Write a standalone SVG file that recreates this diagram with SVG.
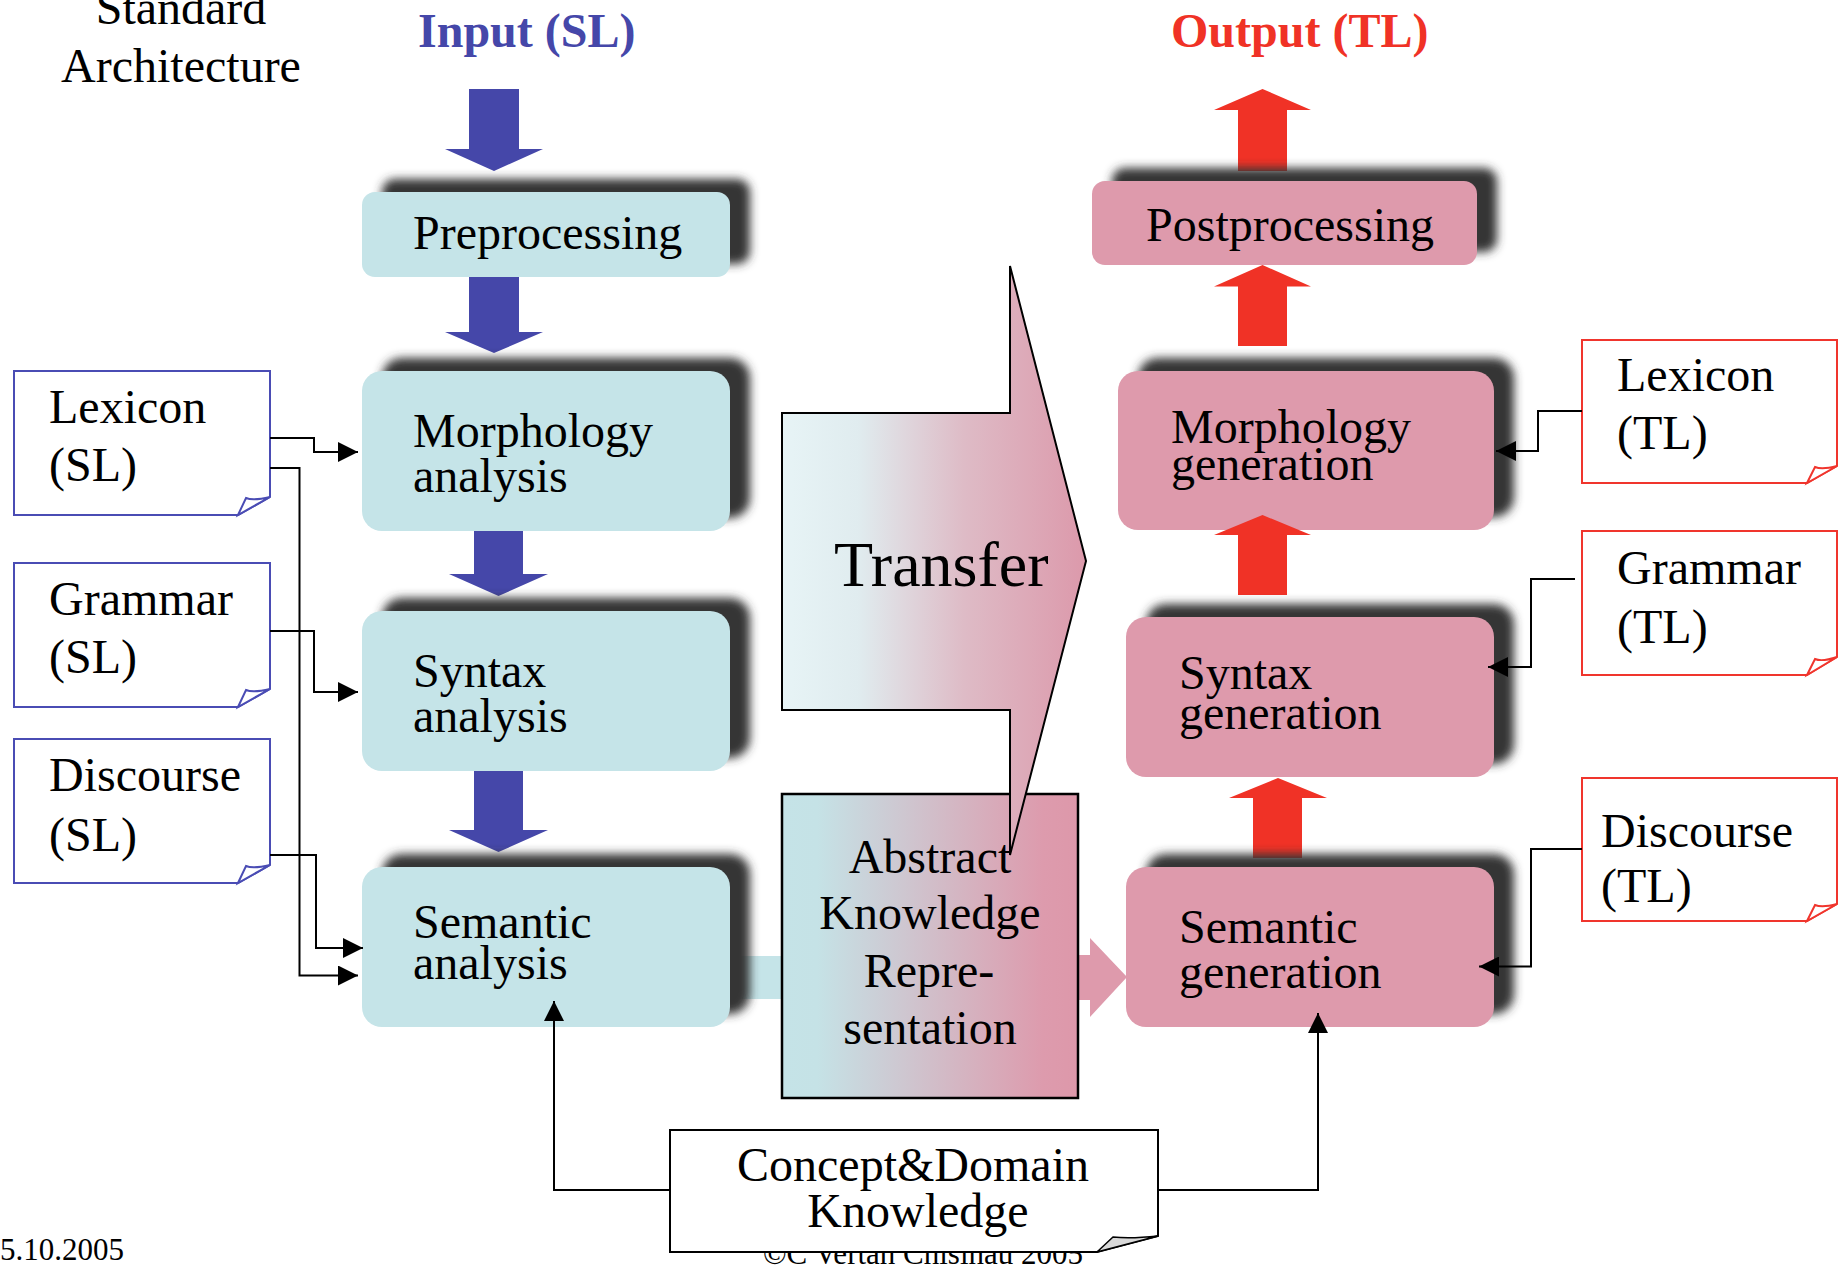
<svg xmlns="http://www.w3.org/2000/svg" width="1838" height="1265" viewBox="0 0 1838 1265">
  <defs>
    <style>
      text{font-family:"Liberation Serif","Times New Roman",serif;font-size:48px;fill:#000}
      .bold{font-weight:bold}
      .small{font-size:31px}
      .mid{text-anchor:middle}
      .cy{fill:#C5E4E8}
      .pk{fill:#DE9AAC}
      .shadow{fill:#363636;filter:url(#blur)}
      .blue{fill:#4547A9}
      .red{fill:#F03226}
      .sl{fill:#fff;stroke:#4A4CB4;stroke-width:2}
      .tl{fill:#fff;stroke:#F0352D;stroke-width:2}
      .wire{fill:none;stroke:#000;stroke-width:2;marker-end:url(#head)}
    </style>
    <filter id="blur" x="-20%" y="-40%" width="140%" height="180%">
      <feGaussianBlur stdDeviation="5"/>
    </filter>
    <marker id="head" viewBox="0 0 20 20" refX="20" refY="10" markerWidth="20" markerHeight="20" markerUnits="userSpaceOnUse" orient="auto">
      <path d="M0,0 L20,10 L0,20 Z" fill="#000"/>
    </marker>
    <linearGradient id="gTransfer" gradientUnits="userSpaceOnUse" x1="782" y1="0" x2="1086" y2="0">
      <stop offset="0" stop-color="#E7F4F6"/>
      <stop offset="0.25" stop-color="#E0ECEF"/>
      <stop offset="0.6" stop-color="#DEBBC6"/>
      <stop offset="1" stop-color="#DC99AB"/>
    </linearGradient>
    <linearGradient id="gAbstract" gradientUnits="userSpaceOnUse" x1="782" y1="0" x2="1078" y2="0">
      <stop offset="0" stop-color="#C5E3E7"/>
      <stop offset="0.12" stop-color="#C5E2E6"/>
      <stop offset="0.88" stop-color="#DD9BAD"/>
      <stop offset="1" stop-color="#DD98AA"/>
    </linearGradient>
  </defs>

  <rect width="1838" height="1265" fill="#fff"/>

  <!-- headings -->
  <text class="mid" x="181" y="24">Standard</text>
  <text class="mid" x="181" y="82">Architecture</text>
  <text class="bold" x="418" y="47" style="fill:#4547A9">Input (SL)</text>
  <text class="bold" x="1171" y="47" style="fill:#F03226">Output (TL)</text>

  <!-- footer -->
  <text class="small" x="0" y="1260">5.10.2005</text>
  <text class="small" x="763" y="1264">©C Vertan Chisinau 2005</text>

  <!-- flow arrows (block arrows) -->
  <g id="flow-arrows">
    <polygon class="blue" points="469,89 519,89 519,149 543,149 494,171 445,149 469,149"/>
    <polygon class="blue" points="469,271 519,271 519,332 543,332 494,353 445,332 469,332"/>
    <polygon class="blue" points="474,531 523,531 523,574 548,574 498.5,596 449,574 474,574"/>
    <polygon class="blue" points="474,771 523,771 523,830 548,830 498.5,852 449,830 474,830"/>
    <polygon class="red" points="1262.5,89 1311,110 1287,110 1287,171 1238,171 1238,110 1214,110"/>
    <polygon class="red" points="1262.5,265 1311,286.5 1287,286.5 1287,346 1238,346 1238,286.5 1214,286.5"/>
    <polygon class="red" points="1278,778 1327,798 1302,798 1302,858 1253,858 1253,798 1229,798"/>
    <rect class="cy" x="740" y="956" width="60" height="43"/>
    <polygon class="pk" points="1070,955 1090,955 1090,938 1127,977 1090,1017 1090,1000 1070,1000"/>
  </g>

  <!-- analysis side -->
  <g id="preprocessing">
    <rect class="shadow" x="382" y="179" width="368" height="85" rx="13"/>
    <rect class="cy" x="362" y="192" width="368" height="85" rx="13"/>
    <text x="413" y="249">Preprocessing</text>
  </g>
  <g id="morphology-analysis">
    <rect class="shadow" x="382" y="358" width="368" height="160" rx="20"/>
    <rect class="cy" x="362" y="371" width="368" height="160" rx="20"/>
    <text x="413" y="447">Morphology</text>
    <text x="413" y="492">analysis</text>
  </g>
  <g id="syntax-analysis">
    <rect class="shadow" x="382" y="598" width="368" height="160" rx="20"/>
    <rect class="cy" x="362" y="611" width="368" height="160" rx="20"/>
    <text x="413" y="687">Syntax</text>
    <text x="413" y="732">analysis</text>
  </g>
  <g id="semantic-analysis">
    <rect class="shadow" x="382" y="854" width="368" height="160" rx="20"/>
    <rect class="cy" x="362" y="867" width="368" height="160" rx="20"/>
    <text x="413" y="938">Semantic</text>
    <text x="413" y="979">analysis</text>
  </g>

  <!-- generation side -->
  <g id="postprocessing">
    <rect class="shadow" x="1112" y="168" width="385" height="84" rx="13"/>
    <rect class="pk" x="1092" y="181" width="385" height="84" rx="13"/>
    <text x="1146" y="241">Postprocessing</text>
  </g>
  <g id="morphology-generation">
    <rect class="shadow" x="1138" y="358" width="376" height="159" rx="20"/>
    <rect class="pk" x="1118" y="371" width="376" height="159" rx="20"/>
    <text x="1171" y="443">Morphology</text>
    <text x="1171" y="480">generation</text>
  </g>
  <!-- syntax → morphology generation arrow sits over the box edge -->
  <polygon id="arrow-syntax-morph" class="red" points="1262.5,515 1311,535 1287,535 1287,595 1238,595 1238,535 1214,535"/>
  <g id="syntax-generation">
    <rect class="shadow" x="1146" y="604" width="368" height="160" rx="20"/>
    <rect class="pk" x="1126" y="617" width="368" height="160" rx="20"/>
    <text x="1179" y="689">Syntax</text>
    <text x="1179" y="729">generation</text>
  </g>
  <g id="semantic-generation">
    <rect class="shadow" x="1146" y="854" width="368" height="160" rx="20"/>
    <rect class="pk" x="1126" y="867" width="368" height="160" rx="20"/>
    <text x="1179" y="943">Semantic</text>
    <text x="1179" y="988">generation</text>
  </g>

  <!-- abstract representation and transfer -->
  <g id="abstract-knowledge">
    <rect x="782" y="794" width="296" height="304" fill="url(#gAbstract)" stroke="#000" stroke-width="2.5"/>
  </g>
  <g id="transfer">
    <polygon points="782,413 1010,413 1010,266 1086,561 1010,855 1010,710 782,710" fill="url(#gTransfer)" stroke="#000" stroke-width="2"/>
    <text x="834" y="586" style="font-size:64px">Transfer</text>
  </g>
  <g id="abstract-knowledge-label">
    <text class="mid" x="930" y="873">Abstract</text>
    <text class="mid" x="930" y="929">Knowledge</text>
    <text class="mid" x="929" y="987">Repre-</text>
    <text class="mid" x="930" y="1044">sentation</text>
  </g>

  <!-- source-language resources -->
  <g id="lexicon-sl">
    <path class="sl" d="M14,371 H270 V497 L238,515 H14 Z"/>
    <path class="sl" d="M238,515 L246,498 Q253,501 270,497 Z"/>
    <text x="49" y="423">Lexicon</text>
    <text x="49" y="481">(SL)</text>
  </g>
  <g id="grammar-sl">
    <path class="sl" d="M14,563 H270 V689 L238,707 H14 Z"/>
    <path class="sl" d="M238,707 L246,690 Q253,693 270,689 Z"/>
    <text x="49" y="615">Grammar</text>
    <text x="49" y="673">(SL)</text>
  </g>
  <g id="discourse-sl">
    <path class="sl" d="M14,739 H270 V865 L238,883 H14 Z"/>
    <path class="sl" d="M238,883 L246,866 Q253,869 270,865 Z"/>
    <text x="49" y="791">Discourse</text>
    <text x="49" y="851">(SL)</text>
  </g>

  <!-- target-language resources -->
  <g id="lexicon-tl">
    <path class="tl" d="M1582,340 H1837 V466 L1807,483 H1582 Z"/>
    <path class="tl" d="M1807,483 L1815,467 Q1822,470 1837,466 Z"/>
    <text x="1617" y="391">Lexicon</text>
    <text x="1617" y="449">(TL)</text>
  </g>
  <g id="grammar-tl">
    <path class="tl" d="M1582,531 H1837 V657 L1807,675 H1582 Z"/>
    <path class="tl" d="M1807,675 L1815,659 Q1822,662 1837,657 Z"/>
    <text x="1617" y="584">Grammar</text>
    <text x="1617" y="643">(TL)</text>
  </g>
  <g id="discourse-tl">
    <path class="tl" d="M1582,778 H1837 V904 L1807,921 H1582 Z"/>
    <path class="tl" d="M1807,921 L1815,905 Q1822,908 1837,904 Z"/>
    <text x="1601" y="847">Discourse</text>
    <text x="1601" y="902">(TL)</text>
  </g>

  <!-- domain knowledge -->
  <g id="concept-domain">
    <path d="M670,1130 H1158 V1236 L1097,1252 H670 Z" fill="#fff" stroke="#000" stroke-width="2"/>
    <path d="M1097,1252 L1113,1237 Q1130,1239 1158,1236 Z" fill="#D9D9D9" stroke="#000" stroke-width="1.5"/>
    <text class="mid" x="913" y="1181">Concept&amp;Domain</text>
    <text class="mid" x="918" y="1227">Knowledge</text>
  </g>

  <!-- resource connectors -->
  <g id="connectors">
    <path class="wire" d="M270,438 H314 V452 H358"/>
    <path class="wire" d="M270,468 H299.5 V975.5 H358"/>
    <path class="wire" d="M270,631 H314 V692 H358"/>
    <path class="wire" d="M270,855 H316 V948 H363"/>
    <path class="wire" d="M1582,411 H1538 V451 H1496"/>
    <path class="wire" d="M1575,579 H1531 V667 H1488"/>
    <path class="wire" d="M1582,849 H1531 V966.5 H1479"/>
    <path class="wire" d="M670,1190 H554 V1001"/>
    <path class="wire" d="M1158,1190 H1318 V1013"/>
  </g>
</svg>
